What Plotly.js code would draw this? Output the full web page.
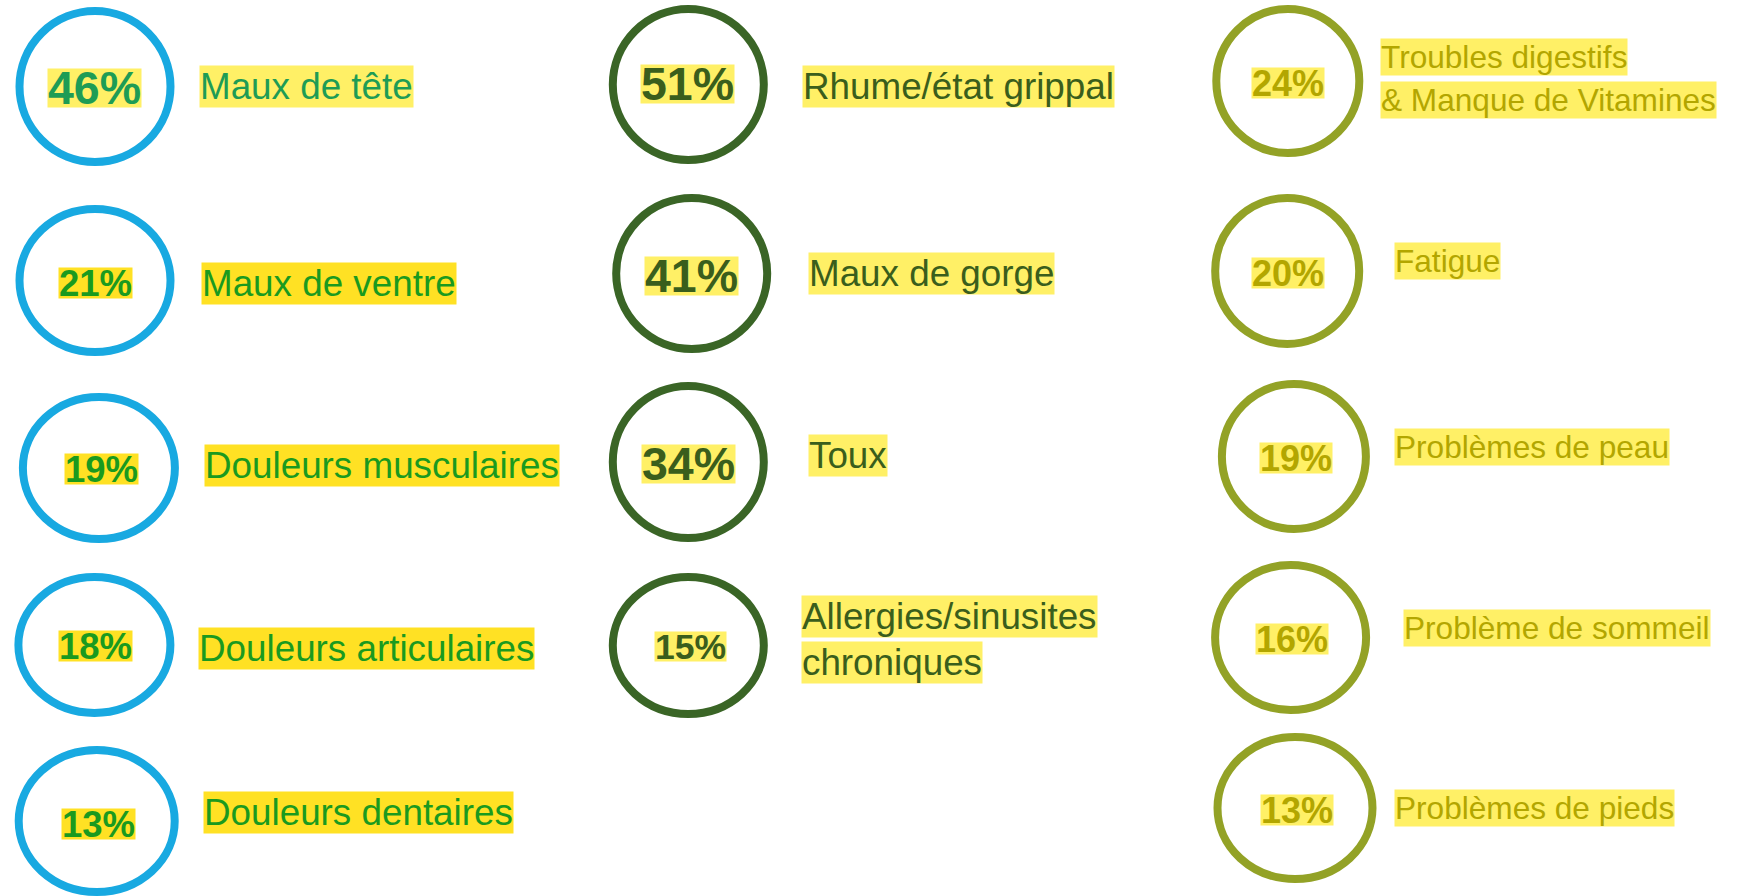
<!DOCTYPE html>
<html>
<head>
<meta charset="utf-8">
<script src="https://cdn.plot.ly/plotly-3.0.1.min.js"></script>
<style>
  html, body { margin: 0; padding: 0; background: #ffffff; }
  #chart { width: 1742px; height: 896px; }
</style>
</head>
<body>
<div id="chart"></div>
<script>
// ---------------- DATA ----------------
const col1Labels = ['Maux de tête', 'Maux de ventre', 'Douleurs musculaires', 'Douleurs articulaires', 'Douleurs dentaires'];
const col1Values = [46, 21, 19, 18, 13];

const col2Labels = ['Rhume/état grippal', 'Maux de gorge', 'Toux', 'Allergies/sinusites<br>chroniques'];
const col2Values = [51, 41, 34, 15];

const col3Labels = ['Troubles digestifs<br>& Manque de Vitamines', 'Fatigue', 'Problèmes de peau', 'Problème de sommeil', 'Problèmes de pieds'];
const col3Values = [24, 20, 19, 16, 13];

// ---------------- LAYOUT (positions / sizes / styles, page pixels) ----------------
const FONT = 'Liberation Sans, Arial, Helvetica, sans-serif';
const RING_W = 8;

const columns = [
  {
    labels: col1Labels, values: col1Values,
    ringColor: '#18A9E1',
    textColor: ['#1E9C55', '#1A9A1F', '#1A9A1F', '#1A9A1F', '#1A9A1F'],
    pctColor:  ['#1E9C55', '#1A9A1F', '#1A9A1F', '#1A9A1F', '#1A9A1F'],
    highlight: ['#FFF066', '#FFE124', '#FFE124', '#FFE124', '#FFE124'],
    ringX: [95, 95, 98.9, 94.4, 96.7],
    ringY: [86.5, 280.5, 468, 645, 821],
    ringW: [159, 159, 160, 160, 164],
    ringH: [159, 151, 150, 144, 150],
    pctX: [94.4, 95.6, 101.1, 95.6, 98.9],
    pctY: [87.5, 282.7, 469.3, 646.3, 824],
    pctSize: [46.5, 36.5, 36.5, 36.5, 36.5],
    labX: [198.9, 201.1, 204.4, 197.8, 203.3],
    labY: [86.3, 283.3, 465, 648.3, 812],
    labSize: 36.8, lineGap: 46
  },
  {
    labels: col2Labels, values: col2Values,
    ringColor: '#3A6526',
    textColor: ['#3A5E1C', '#3A5E1C', '#3A5E1C', '#3A5E1C'],
    pctColor:  ['#3A5E1C', '#3A5E1C', '#3A5E1C', '#3A5E1C'],
    highlight: ['#FFF066', '#FFF066', '#FFF066', '#FFF066'],
    ringX: [688.3, 691.7, 688.3, 688.3],
    ringY: [84.5, 273.5, 462, 645.5],
    ringW: [159, 159, 159, 159],
    ringH: [159, 159, 160, 145],
    pctX: [687.8, 691.7, 688.3, 690],
    pctY: [84.2, 275.5, 463.5, 646],
    pctSize: [46.5, 46.5, 46.5, 35.5],
    labX: [802.2, 807.8, 807.8, 801.1],
    labY: [86.7, 273, 455, 616],
    labSize: 36.8, lineGap: 46
  },
  {
    labels: col3Labels, values: col3Values,
    ringColor: '#93A226',
    textColor: ['#B3A600', '#B3A600', '#B3A600', '#B3A600', '#B3A600'],
    pctColor:  ['#B3A600', '#B3A600', '#B3A600', '#B3A600', '#B3A600'],
    highlight: ['#FFF066', '#FFF066', '#FFF066', '#FFF066', '#FFF066'],
    ringX: [1287.8, 1287.2, 1293.9, 1290.6, 1295],
    ringY: [81, 271, 456.5, 637.5, 808],
    ringW: [151, 152, 152, 159, 163],
    ringH: [152, 154, 153, 153, 150],
    pctX: [1288.3, 1288.3, 1296.1, 1292.2, 1297.2],
    pctY: [83.3, 272.5, 457.5, 639.3, 810],
    pctSize: [36, 36, 36, 36, 36],
    labX: [1380, 1394.4, 1394.4, 1403.3, 1394.4],
    labY: [57, 260.8, 446.7, 627.8, 808.3],
    labSize: 31.6, lineGap: 43
  }
];

// ---------------- BUILD ----------------
const traces = [];
const shapes = [];
const annotations = [];

columns.forEach((c) => {
  // invisible hover layer over each ring
  traces.push({
    type: 'scatter', mode: 'markers',
    x: c.ringX, y: c.ringY,
    marker: { size: 150, color: 'rgba(0,0,0,0)' },
    customdata: c.labels.map(l => l.replace('<br>', ' ')),
    text: c.values.map(v => v + '%'),
    hovertemplate: '%{customdata}: %{text}<extra></extra>',
    showlegend: false
  });

  c.values.forEach((v, i) => {
    const rx = (c.ringW[i] - RING_W) / 2;
    const ry = (c.ringH[i] - RING_W) / 2;
    shapes.push({
      type: 'circle', xref: 'x', yref: 'y',
      x0: c.ringX[i] - rx, x1: c.ringX[i] + rx,
      y0: c.ringY[i] - ry, y1: c.ringY[i] + ry,
      line: { color: c.ringColor, width: RING_W },
      fillcolor: 'rgba(0,0,0,0)'
    });

    annotations.push({
      xref: 'x', yref: 'y', x: c.pctX[i], y: c.pctY[i],
      xanchor: 'center', yanchor: 'middle', valign: 'middle',
      text: '<b>' + v + '%</b>', showarrow: false,
      height: Math.round(c.pctSize[i] * 0.82),
      font: { family: FONT, size: c.pctSize[i], color: c.pctColor[i] },
      bgcolor: c.highlight[i], borderpad: 0
    });

    c.labels[i].split('<br>').forEach((line, k) => {
      annotations.push({
        xref: 'x', yref: 'y', x: c.labX[i], y: c.labY[i] + k * c.lineGap,
        xanchor: 'left', yanchor: 'middle',
        text: line, showarrow: false,
        font: { family: FONT, size: c.labSize, color: c.textColor[i] },
        bgcolor: c.highlight[i], borderpad: 0
      });
    });
  });
});

const layout = {
  width: 1742, height: 896,
  margin: { l: 0, r: 0, t: 0, b: 0, pad: 0 },
  paper_bgcolor: '#ffffff', plot_bgcolor: '#ffffff',
  xaxis: { range: [0, 1742], visible: false, fixedrange: true },
  yaxis: { range: [896, 0], visible: false, fixedrange: true },
  shapes: shapes,
  annotations: annotations,
  showlegend: false,
  hovermode: 'closest'
};

Plotly.newPlot('chart', traces, layout, { displayModeBar: false });
</script>
</body>
</html>
